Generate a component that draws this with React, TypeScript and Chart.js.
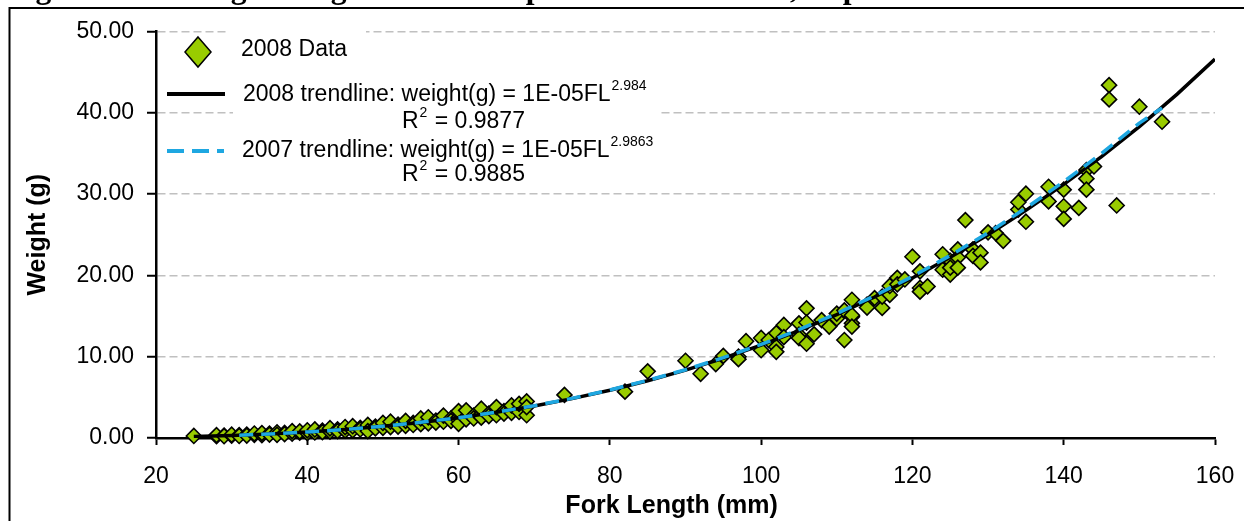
import React, { useEffect, useRef } from "react";
import { Chart, registerables } from "chart.js";

Chart.register(...registerables);

// ---- Data ----
const fishLength = [
  25,
  28, 28, 29, 29, 30, 30, 31, 31, 32, 32, 33, 33,
  34, 34, 34, 35, 35, 36, 36, 36, 37, 37,
  38, 38, 38, 39, 39, 40, 40, 40, 41, 41, 41,
  42, 42, 43, 43, 43, 44, 44, 45, 45, 45,
  46, 46, 46, 47, 47, 48, 48, 48, 48, 49, 49,
  50, 50, 50, 51, 51, 51, 52, 52, 53, 53, 53,
  54, 54, 55, 55, 55, 56, 56, 56, 57, 57,
  58, 58, 58, 59, 59, 60, 60, 60, 60, 61, 61, 61,
  62, 62, 63, 63, 63, 64, 64, 65, 65, 65,
  66, 66, 67, 67, 67, 68, 68, 68, 69, 69, 69,
  74, 82, 85, 90, 92, 94, 95, 97, 97, 98,
  100, 100, 101, 102, 102, 102, 103, 103,
  105, 105, 105, 106, 106, 106, 107, 108, 109,
  110, 110, 111, 111, 112, 112, 112, 112, 112,
  114, 114, 115, 116, 116, 117, 117, 118, 118, 119,
  120, 121, 121, 121, 122, 124, 124, 125, 125, 125,
  126, 126, 126, 127, 128, 128, 129, 129,
  130, 131, 132, 134, 134, 135, 135, 138, 138,
  140, 140, 140, 142, 143, 143, 143, 144,
  146, 146, 147, 150, 153,
];
const fishWeight = [
  0.25,
  0.22, 0.35, 0.30, 0.22, 0.28, 0.40, 0.35, 0.25, 0.42, 0.30, 0.40, 0.55,
  0.45, 0.35, 0.60, 0.55, 0.42, 0.50, 0.70, 0.40, 0.62, 0.48,
  0.70, 0.55, 0.85, 0.65, 0.80, 0.75, 0.60, 0.95, 0.80, 0.68, 1.05,
  0.90, 0.72, 0.95, 0.80, 1.20, 1.05, 0.85, 1.10, 0.90, 1.35,
  1.15, 0.95, 1.45, 1.25, 1.05, 1.30, 1.10, 1.60, 0.85, 1.40, 1.20,
  1.50, 1.25, 1.85, 1.55, 1.35, 2.00, 1.65, 1.40, 1.75, 1.50, 2.10,
  1.85, 1.60, 1.95, 1.70, 2.40, 2.05, 1.80, 2.55, 2.15, 1.90,
  2.30, 2.00, 2.75, 2.40, 2.10, 2.50, 2.20, 3.30, 1.75, 2.60, 2.30, 3.40,
  2.75, 2.40, 2.90, 2.50, 3.60, 3.00, 2.70, 3.20, 2.80, 3.80,
  3.30, 3.00, 3.50, 3.10, 4.00, 3.60, 3.20, 4.20, 4.50, 2.80, 3.80,
  5.3, 5.7, 8.2, 9.5, 7.9, 9.1, 10.1, 10.0, 9.7, 11.9,
  12.3, 10.8, 12.05, 12.9, 11.2, 10.6, 13.9, 12.4,
  14.1, 12.7, 12.3, 15.95, 14.2, 11.6, 12.75, 14.5, 13.7,
  14.7, 15.3, 12.05, 15.7, 14.9, 14.1, 17.0, 15.1, 13.7,
  16.4, 16.05, 17.2, 16.0, 17.4, 17.6, 18.7, 19.7, 18.9, 19.5,
  22.3, 18.45, 20.5, 18.0, 18.65, 22.6, 20.7, 21.8, 20.1, 20.95,
  23.2, 22.2, 20.95, 26.8, 23.2, 22.4, 22.8, 21.6,
  25.3, 25.2, 24.25, 28.1, 29.0, 30.05, 26.6, 30.9, 29.1,
  30.55, 28.5, 26.95, 28.3, 32.95, 31.9, 30.55, 33.4,
  43.4, 41.65, 28.6, 40.75, 38.9,
];

const trend2008Length = [25, 30, 35, 40, 45, 50, 55, 60, 65, 70, 75, 80, 85, 90, 95, 100, 105, 110, 115, 120, 125, 130, 135, 140, 145, 150, 155, 160];
const trend2008Weight = [0.18, 0.31, 0.50, 0.74, 1.05, 1.44, 1.92, 2.48, 3.16, 3.94, 4.84, 5.87, 7.04, 8.34, 9.81, 11.43, 13.22, 15.18, 17.34, 19.69, 22.24, 25.0, 28.0, 31.2, 34.6, 38.3, 42.3, 46.6];

const trend2007Length = [31, 35, 40, 45, 50, 55, 60, 65, 70, 75, 80, 85, 90, 95, 100, 105, 110, 115, 120, 125, 130, 135, 140, 145, 150, 153];
const trend2007Weight = [0.35, 0.50, 0.74, 1.05, 1.45, 1.93, 2.50, 3.18, 3.97, 4.87, 5.91, 7.09, 8.40, 9.88, 11.52, 13.33, 15.31, 17.49, 19.87, 22.45, 25.24, 28.28, 31.52, 35.0, 38.74, 40.6];

const xAxisTitle = "Fork Length (mm)";
const yAxisTitle = "Weight (g)";
const figureCaption = "Figure 4-10. Length-weight relationship for wild steelhead, Lapwai Creek 2008";
const legendData = "2008 Data";
const legend2008 = "2008 trendline: weight(g) = 1E-05FL";
const legend2008Exp = "2.984";
const legend2008R2 = " = 0.9877";
const legend2007 = "2007 trendline: weight(g) = 1E-05FL";
const legend2007Exp = "2.9863";
const legend2007R2 = " = 0.9885";

const SANS = '"Liberation Sans", Arial, sans-serif';
const GREEN = "#99cc00";
const BLUE = "#1ea7e1";

function toPoints(xs: number[], ys: number[]) {
  return xs.map((x, i) => ({ x, y: ys[i] }));
}

const decorPlugin = {
  id: "decor",
  beforeDraw(chart: any) {
    const ctx = chart.ctx as CanvasRenderingContext2D;
    ctx.save();
    ctx.fillStyle = "#fff";
    ctx.fillRect(0, 0, chart.width, chart.height);
    // caption (mostly cut off at top)
    ctx.fillStyle = "#000";
    ctx.font = 'bold 31.6px "Liberation Serif", "Times New Roman", serif';
    ctx.textBaseline = "alphabetic";
    ctx.textAlign = "left";
    ctx.fillText(figureCaption, 7.5, -2.5);
    // outer frame
    ctx.strokeStyle = "#000";
    ctx.lineWidth = 2;
    ctx.beginPath();
    ctx.moveTo(9.5, chart.height + 5);
    ctx.lineTo(9.5, 8);
    ctx.lineTo(chart.width + 5, 8);
    ctx.stroke();
    ctx.restore();
  },
  afterDraw(chart: any) {
    const ctx = chart.ctx as CanvasRenderingContext2D;
    ctx.save();
    // white backgrounds behind legend texts
    ctx.fillStyle = "#fff";
    ctx.fillRect(226, 26, 140, 44);
    ctx.fillRect(233, 76, 426, 58);
    ctx.fillRect(233, 135, 426, 52);

    const main = `23px ${SANS}`;
    const sup = `14px ${SANS}`;
    ctx.fillStyle = "#000";
    ctx.textBaseline = "middle";
    ctx.textAlign = "left";

    // diamond marker
    ctx.beginPath();
    ctx.moveTo(198, 37);
    ctx.lineTo(211, 52);
    ctx.lineTo(198, 67);
    ctx.lineTo(185, 52);
    ctx.closePath();
    ctx.fillStyle = GREEN;
    ctx.fill();
    ctx.strokeStyle = "#000";
    ctx.lineWidth = 1.5;
    ctx.stroke();

    ctx.fillStyle = "#000";
    ctx.font = main;
    ctx.fillText(legendData, 241, 50);

    // black line
    ctx.beginPath();
    ctx.strokeStyle = "#000";
    ctx.lineWidth = 4;
    ctx.moveTo(167, 94);
    ctx.lineTo(225, 94);
    ctx.stroke();

    const drawWithSup = (text: string, exp: string, x: number, y: number) => {
      ctx.font = main;
      ctx.fillText(text, x, y);
      const w = ctx.measureText(text).width;
      ctx.font = sup;
      ctx.fillText(exp, x + w + 1, y - 9);
    };
    const drawR2 = (rest: string, x: number, y: number) => {
      ctx.font = main;
      ctx.fillText("R", x, y);
      const w = ctx.measureText("R").width;
      ctx.font = sup;
      ctx.fillText("2", x + w + 1, y - 9);
      const w2 = ctx.measureText("2").width;
      ctx.font = main;
      ctx.fillText(rest, x + w + w2 + 2, y);
    };

    drawWithSup(legend2008, legend2008Exp, 243, 95);
    drawR2(legend2008R2, 402, 122);

    // blue dashed line
    ctx.beginPath();
    ctx.strokeStyle = BLUE;
    ctx.lineWidth = 4;
    ctx.setLineDash([17, 8]);
    ctx.moveTo(167, 151);
    ctx.lineTo(224, 151);
    ctx.stroke();
    ctx.setLineDash([]);

    drawWithSup(legend2007, legend2007Exp, 242, 151);
    drawR2(legend2007R2, 402, 175);
    ctx.restore();
  },
};

export default function App() {
  const canvasRef = useRef<HTMLCanvasElement | null>(null);

  useEffect(() => {
    if (!canvasRef.current) return;
    const chart = new Chart(canvasRef.current, {
      type: "scatter",
      data: {
        datasets: [
          {
            label: "2008 Data",
            data: toPoints(fishLength, fishWeight),
            pointStyle: "rectRot",
            pointRadius: 7.5,
            backgroundColor: GREEN,
            borderColor: "#000",
            borderWidth: 1.6,
            order: 3,
            clip: false,
          } as any,
          {
            label: "2008 trendline",
            data: toPoints(trend2008Length, trend2008Weight),
            showLine: true,
            pointRadius: 0,
            borderColor: "#000",
            borderWidth: 3.5,
            tension: 0,
            order: 2,
          } as any,
          {
            label: "2007 trendline",
            data: toPoints(trend2007Length, trend2007Weight),
            showLine: true,
            pointRadius: 0,
            borderColor: BLUE,
            borderWidth: 3.5,
            borderDash: [14, 8],
            tension: 0,
            order: 1,
          } as any,
        ],
      },
      options: {
        responsive: false,
        animation: false,
        devicePixelRatio: 1,
        layout: { padding: { left: 0, right: 29, top: 31.5, bottom: 0 } },
        plugins: {
          legend: { display: false },
          tooltip: { enabled: false },
        },
        scales: {
          x: {
            type: "linear",
            min: 20,
            max: 160,
            afterFit: (s: any) => {
              s.height = 83;
              s.paddingRight = 0;
              s.paddingLeft = 0;
            },
            ticks: {
              stepSize: 20,
              color: "#000",
              font: { family: SANS, size: 23 },
              padding: 18,
              maxRotation: 0,
              autoSkip: false,
            },
            grid: {
              drawOnChartArea: false,
              drawTicks: true,
              tickLength: 7,
              tickColor: "#000",
              tickWidth: 2,
            },
            border: { color: "#000", width: 2.5 },
            title: {
              display: true,
              text: xAxisTitle + "    ",
              color: "#000",
              font: { family: SANS, size: 25, weight: "bold" },
              padding: { top: 0, bottom: 0 },
            },
          },
          y: {
            type: "linear",
            min: 0,
            max: 50,
            afterFit: (s: any) => {
              s.width = 156;
            },
            ticks: {
              stepSize: 10,
              color: "#000",
              font: { family: SANS, size: 23 },
              padding: 13,
              callback: (v: any) => Number(v).toFixed(2),
            },
            grid: {
              color: (c: any) => (c.tick && c.tick.value === 0 ? "rgba(0,0,0,0)" : "#c0c0c0"),
              lineWidth: 1.5,
              drawTicks: true,
              tickLength: 9,
              tickColor: "#000",
              tickWidth: 2,
            },
            border: { color: "#000", width: 2.5, dash: [8, 4] },
            title: {
              display: true,
              text: yAxisTitle,
              color: "#000",
              font: { family: SANS, size: 25, weight: "bold" },
              padding: { top: 23, bottom: 0 },
            },
          },
        },
      } as any,
      plugins: [decorPlugin],
    });
    return () => chart.destroy();
  }, []);

  return (
    <div style={{ position: "absolute", left: 0, top: 0, width: 1244, height: 521, overflow: "hidden" }}>
      <canvas ref={canvasRef} width={1244} height={521} style={{ display: "block", width: 1244, height: 521 }} />
    </div>
  );
}
